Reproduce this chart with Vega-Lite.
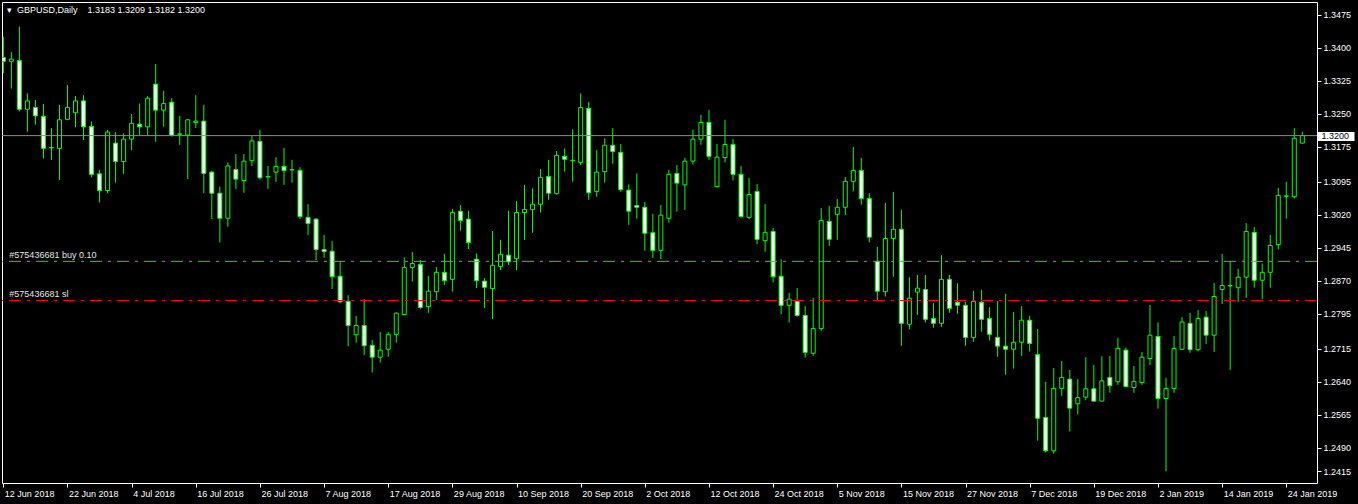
{
  "$schema": "https://vega.github.io/schema/vega-lite/v6.json",
  "width": 1315,
  "height": 481,
  "autosize": {"type": "none"},
  "padding": {"left": 2, "top": 2, "right": 41, "bottom": 21},
  "background": "#000000",
  "config": {
    "view": {"stroke": "#ffffff", "strokeWidth": 1, "fill": "#000000"},
    "font": "Liberation Sans",
    "axis": {
      "domain": false,
      "grid": false,
      "ticks": true,
      "tickColor": "#ffffff",
      "tickSize": 4,
      "tickWidth": 1,
      "labelColor": "#ffffff",
      "labelFont": "Liberation Sans",
      "labelFontSize": 9,
      "labelPadding": 2,
      "labelOverlap": false,
      "labelBound": false,
      "labelFlush": false,
      "title": null
    }
  },
  "title": {
    "text": "▾\u00a0\u00a0GBPUSD,Daily\u00a0\u00a0\u00a0\u00a01.3183 1.3209 1.3182 1.3200",
    "anchor": "start",
    "frame": "group",
    "orient": "top",
    "offset": -13,
    "dx": 5,
    "color": "#ffffff",
    "font": "Liberation Sans",
    "fontSize": 9,
    "fontWeight": "normal"
  },
  "datasets": {
    "candles": [
      {"d":"12 Jun 2018","o":1.3378,"h":1.3425,"l":1.3342,"c":1.3369},
      {"d":"13 Jun 2018","o":1.3369,"h":1.3390,"l":1.3307,"c":1.3374},
      {"d":"14 Jun 2018","o":1.3371,"h":1.3448,"l":1.3255,"c":1.3260},
      {"d":"15 Jun 2018","o":1.3260,"h":1.3296,"l":1.3209,"c":1.3279},
      {"d":"18 Jun 2018","o":1.3264,"h":1.3281,"l":1.3225,"c":1.3245},
      {"d":"19 Jun 2018","o":1.3244,"h":1.3272,"l":1.3148,"c":1.3171},
      {"d":"20 Jun 2018","o":1.3172,"h":1.3217,"l":1.3145,"c":1.3173},
      {"d":"21 Jun 2018","o":1.3171,"h":1.3270,"l":1.3099,"c":1.3236},
      {"d":"22 Jun 2018","o":1.3237,"h":1.3315,"l":1.3235,"c":1.3264},
      {"d":"25 Jun 2018","o":1.3252,"h":1.3290,"l":1.3219,"c":1.3279},
      {"d":"26 Jun 2018","o":1.3279,"h":1.3292,"l":1.3190,"c":1.3220},
      {"d":"27 Jun 2018","o":1.3221,"h":1.3232,"l":1.3105,"c":1.3112},
      {"d":"28 Jun 2018","o":1.3113,"h":1.3122,"l":1.3048,"c":1.3075},
      {"d":"29 Jun 2018","o":1.3075,"h":1.3213,"l":1.3069,"c":1.3208},
      {"d":"2 Jul 2018","o":1.3183,"h":1.3208,"l":1.3093,"c":1.3141},
      {"d":"3 Jul 2018","o":1.3141,"h":1.3205,"l":1.3113,"c":1.3192},
      {"d":"4 Jul 2018","o":1.3192,"h":1.3249,"l":1.3167,"c":1.3228},
      {"d":"5 Jul 2018","o":1.3226,"h":1.3273,"l":1.3201,"c":1.3220},
      {"d":"6 Jul 2018","o":1.3220,"h":1.3290,"l":1.3201,"c":1.3285},
      {"d":"9 Jul 2018","o":1.3317,"h":1.3363,"l":1.3186,"c":1.3258},
      {"d":"10 Jul 2018","o":1.3258,"h":1.3302,"l":1.3220,"c":1.3273},
      {"d":"11 Jul 2018","o":1.3276,"h":1.3285,"l":1.3198,"c":1.3201},
      {"d":"12 Jul 2018","o":1.3203,"h":1.3245,"l":1.3179,"c":1.3204},
      {"d":"13 Jul 2018","o":1.3201,"h":1.3238,"l":1.3101,"c":1.3236},
      {"d":"16 Jul 2018","o":1.3230,"h":1.3292,"l":1.3217,"c":1.3233},
      {"d":"17 Jul 2018","o":1.3233,"h":1.3270,"l":1.3069,"c":1.3114},
      {"d":"18 Jul 2018","o":1.3117,"h":1.3120,"l":1.3010,"c":1.3069},
      {"d":"19 Jul 2018","o":1.3069,"h":1.3084,"l":1.2957,"c":1.3012},
      {"d":"20 Jul 2018","o":1.3012,"h":1.3139,"l":1.2993,"c":1.3131},
      {"d":"23 Jul 2018","o":1.3123,"h":1.3158,"l":1.3079,"c":1.3101},
      {"d":"24 Jul 2018","o":1.3098,"h":1.3158,"l":1.3070,"c":1.3142},
      {"d":"25 Jul 2018","o":1.3143,"h":1.3199,"l":1.3131,"c":1.3188},
      {"d":"26 Jul 2018","o":1.3187,"h":1.3213,"l":1.3100,"c":1.3104},
      {"d":"27 Jul 2018","o":1.3106,"h":1.3131,"l":1.3079,"c":1.3107},
      {"d":"30 Jul 2018","o":1.3117,"h":1.3151,"l":1.3095,"c":1.3130},
      {"d":"31 Jul 2018","o":1.3130,"h":1.3172,"l":1.3088,"c":1.3121},
      {"d":"1 Aug 2018","o":1.3122,"h":1.3145,"l":1.3093,"c":1.3123},
      {"d":"2 Aug 2018","o":1.3121,"h":1.3128,"l":1.3010,"c":1.3016},
      {"d":"3 Aug 2018","o":1.3014,"h":1.3044,"l":1.2974,"c":1.3000},
      {"d":"6 Aug 2018","o":1.3010,"h":1.3012,"l":1.2917,"c":1.2941},
      {"d":"7 Aug 2018","o":1.2941,"h":1.2974,"l":1.2922,"c":1.2936},
      {"d":"8 Aug 2018","o":1.2937,"h":1.2960,"l":1.2851,"c":1.2879},
      {"d":"9 Aug 2018","o":1.2880,"h":1.2914,"l":1.2819,"c":1.2822},
      {"d":"10 Aug 2018","o":1.2823,"h":1.2837,"l":1.2721,"c":1.2768},
      {"d":"13 Aug 2018","o":1.2747,"h":1.2790,"l":1.2729,"c":1.2768},
      {"d":"14 Aug 2018","o":1.2768,"h":1.2828,"l":1.2701,"c":1.2722},
      {"d":"15 Aug 2018","o":1.2723,"h":1.2735,"l":1.2661,"c":1.2696},
      {"d":"16 Aug 2018","o":1.2696,"h":1.2753,"l":1.2684,"c":1.2712},
      {"d":"17 Aug 2018","o":1.2714,"h":1.2753,"l":1.2697,"c":1.2748},
      {"d":"20 Aug 2018","o":1.2748,"h":1.2798,"l":1.2729,"c":1.2796},
      {"d":"21 Aug 2018","o":1.2793,"h":1.2923,"l":1.2792,"c":1.2900},
      {"d":"22 Aug 2018","o":1.2900,"h":1.2935,"l":1.2868,"c":1.2909},
      {"d":"23 Aug 2018","o":1.2907,"h":1.2917,"l":1.2805,"c":1.2809},
      {"d":"24 Aug 2018","o":1.2811,"h":1.2881,"l":1.2797,"c":1.2846},
      {"d":"27 Aug 2018","o":1.2845,"h":1.2901,"l":1.2826,"c":1.2889},
      {"d":"28 Aug 2018","o":1.2889,"h":1.2931,"l":1.2860,"c":1.2870},
      {"d":"29 Aug 2018","o":1.2873,"h":1.3033,"l":1.2845,"c":1.3025},
      {"d":"30 Aug 2018","o":1.3028,"h":1.3042,"l":1.2984,"c":1.3007},
      {"d":"31 Aug 2018","o":1.3010,"h":1.3029,"l":1.2942,"c":1.2957},
      {"d":"3 Sep 2018","o":1.2919,"h":1.2932,"l":1.2853,"c":1.2870},
      {"d":"4 Sep 2018","o":1.2869,"h":1.2876,"l":1.2808,"c":1.2855},
      {"d":"5 Sep 2018","o":1.2852,"h":1.2983,"l":1.2783,"c":1.2905},
      {"d":"6 Sep 2018","o":1.2902,"h":1.2963,"l":1.2894,"c":1.2930},
      {"d":"7 Sep 2018","o":1.2928,"h":1.3029,"l":1.2906,"c":1.2913},
      {"d":"10 Sep 2018","o":1.2920,"h":1.3051,"l":1.2894,"c":1.3025},
      {"d":"11 Sep 2018","o":1.3025,"h":1.3088,"l":1.2963,"c":1.3032},
      {"d":"12 Sep 2018","o":1.3032,"h":1.3080,"l":1.2979,"c":1.3044},
      {"d":"13 Sep 2018","o":1.3044,"h":1.3124,"l":1.3025,"c":1.3105},
      {"d":"14 Sep 2018","o":1.3107,"h":1.3145,"l":1.3054,"c":1.3069},
      {"d":"17 Sep 2018","o":1.3068,"h":1.3165,"l":1.3066,"c":1.3155},
      {"d":"18 Sep 2018","o":1.3153,"h":1.3171,"l":1.3118,"c":1.3146},
      {"d":"19 Sep 2018","o":1.3143,"h":1.3214,"l":1.3095,"c":1.3144},
      {"d":"20 Sep 2018","o":1.3139,"h":1.3296,"l":1.3133,"c":1.3264},
      {"d":"21 Sep 2018","o":1.3262,"h":1.3276,"l":1.3054,"c":1.3070},
      {"d":"24 Sep 2018","o":1.3073,"h":1.3167,"l":1.3061,"c":1.3117},
      {"d":"25 Sep 2018","o":1.3118,"h":1.3194,"l":1.3093,"c":1.3178},
      {"d":"26 Sep 2018","o":1.3178,"h":1.3217,"l":1.3136,"c":1.3164},
      {"d":"27 Sep 2018","o":1.3162,"h":1.3181,"l":1.3072,"c":1.3077},
      {"d":"28 Sep 2018","o":1.3076,"h":1.3089,"l":1.2997,"c":1.3028},
      {"d":"1 Oct 2018","o":1.3041,"h":1.3114,"l":1.3011,"c":1.3037},
      {"d":"2 Oct 2018","o":1.3037,"h":1.3049,"l":1.2938,"c":1.2978},
      {"d":"3 Oct 2018","o":1.2979,"h":1.3022,"l":1.2922,"c":1.2939},
      {"d":"4 Oct 2018","o":1.2939,"h":1.3042,"l":1.2919,"c":1.3019},
      {"d":"5 Oct 2018","o":1.3012,"h":1.3122,"l":1.3002,"c":1.3112},
      {"d":"8 Oct 2018","o":1.3114,"h":1.3133,"l":1.3027,"c":1.3092},
      {"d":"9 Oct 2018","o":1.3088,"h":1.3149,"l":1.3031,"c":1.3142},
      {"d":"10 Oct 2018","o":1.3142,"h":1.3214,"l":1.3134,"c":1.3192},
      {"d":"11 Oct 2018","o":1.3192,"h":1.3247,"l":1.3179,"c":1.3230},
      {"d":"12 Oct 2018","o":1.3230,"h":1.3258,"l":1.3145,"c":1.3153},
      {"d":"15 Oct 2018","o":1.3084,"h":1.3181,"l":1.3082,"c":1.3151},
      {"d":"16 Oct 2018","o":1.3150,"h":1.3236,"l":1.3139,"c":1.3180},
      {"d":"17 Oct 2018","o":1.3180,"h":1.3192,"l":1.3098,"c":1.3112},
      {"d":"18 Oct 2018","o":1.3112,"h":1.3131,"l":1.3013,"c":1.3016},
      {"d":"19 Oct 2018","o":1.3014,"h":1.3104,"l":1.3010,"c":1.3066},
      {"d":"22 Oct 2018","o":1.3073,"h":1.3090,"l":1.2953,"c":1.2964},
      {"d":"23 Oct 2018","o":1.2961,"h":1.3044,"l":1.2936,"c":1.2980},
      {"d":"24 Oct 2018","o":1.2982,"h":1.2990,"l":1.2866,"c":1.2879},
      {"d":"25 Oct 2018","o":1.2880,"h":1.2919,"l":1.2794,"c":1.2814},
      {"d":"26 Oct 2018","o":1.2814,"h":1.2842,"l":1.2775,"c":1.2828},
      {"d":"29 Oct 2018","o":1.2823,"h":1.2853,"l":1.2788,"c":1.2791},
      {"d":"30 Oct 2018","o":1.2791,"h":1.2812,"l":1.2695,"c":1.2707},
      {"d":"31 Oct 2018","o":1.2705,"h":1.2831,"l":1.2699,"c":1.2761},
      {"d":"1 Nov 2018","o":1.2761,"h":1.3035,"l":1.2756,"c":1.3007},
      {"d":"2 Nov 2018","o":1.3005,"h":1.3040,"l":1.2949,"c":1.2964},
      {"d":"5 Nov 2018","o":1.3021,"h":1.3056,"l":1.2963,"c":1.3037},
      {"d":"6 Nov 2018","o":1.3037,"h":1.3106,"l":1.3019,"c":1.3096},
      {"d":"7 Nov 2018","o":1.3096,"h":1.3174,"l":1.3073,"c":1.3121},
      {"d":"8 Nov 2018","o":1.3121,"h":1.3149,"l":1.3043,"c":1.3057},
      {"d":"9 Nov 2018","o":1.3057,"h":1.3069,"l":1.2957,"c":1.2969},
      {"d":"12 Nov 2018","o":1.2914,"h":1.2947,"l":1.2826,"c":1.2846},
      {"d":"13 Nov 2018","o":1.2845,"h":1.3047,"l":1.2834,"c":1.2966},
      {"d":"14 Nov 2018","o":1.2966,"h":1.3072,"l":1.2879,"c":1.2987},
      {"d":"15 Nov 2018","o":1.2987,"h":1.3031,"l":1.2722,"c":1.2773},
      {"d":"16 Nov 2018","o":1.2771,"h":1.2878,"l":1.2759,"c":1.2830},
      {"d":"19 Nov 2018","o":1.2844,"h":1.2883,"l":1.2792,"c":1.2853},
      {"d":"20 Nov 2018","o":1.2850,"h":1.2883,"l":1.2775,"c":1.2782},
      {"d":"21 Nov 2018","o":1.2784,"h":1.2819,"l":1.2763,"c":1.2773},
      {"d":"22 Nov 2018","o":1.2773,"h":1.2928,"l":1.2765,"c":1.2873},
      {"d":"23 Nov 2018","o":1.2873,"h":1.2883,"l":1.2797,"c":1.2807},
      {"d":"26 Nov 2018","o":1.2821,"h":1.2864,"l":1.2795,"c":1.2814},
      {"d":"27 Nov 2018","o":1.2814,"h":1.2822,"l":1.2722,"c":1.2741},
      {"d":"28 Nov 2018","o":1.2741,"h":1.2847,"l":1.2731,"c":1.2823},
      {"d":"29 Nov 2018","o":1.2821,"h":1.2849,"l":1.2754,"c":1.2782},
      {"d":"30 Nov 2018","o":1.2784,"h":1.2810,"l":1.2734,"c":1.2748},
      {"d":"3 Dec 2018","o":1.2741,"h":1.2824,"l":1.2697,"c":1.2721},
      {"d":"4 Dec 2018","o":1.2721,"h":1.2840,"l":1.2656,"c":1.2714},
      {"d":"5 Dec 2018","o":1.2714,"h":1.2799,"l":1.2670,"c":1.2730},
      {"d":"6 Dec 2018","o":1.2730,"h":1.2812,"l":1.2699,"c":1.2780},
      {"d":"7 Dec 2018","o":1.2780,"h":1.2790,"l":1.2709,"c":1.2727},
      {"d":"10 Dec 2018","o":1.2702,"h":1.2760,"l":1.2506,"c":1.2557},
      {"d":"11 Dec 2018","o":1.2559,"h":1.2640,"l":1.2479,"c":1.2483},
      {"d":"12 Dec 2018","o":1.2483,"h":1.2671,"l":1.2476,"c":1.2625},
      {"d":"13 Dec 2018","o":1.2625,"h":1.2687,"l":1.2608,"c":1.2650},
      {"d":"14 Dec 2018","o":1.2646,"h":1.2667,"l":1.2527,"c":1.2580},
      {"d":"17 Dec 2018","o":1.2590,"h":1.2646,"l":1.2566,"c":1.2604},
      {"d":"18 Dec 2018","o":1.2605,"h":1.2696,"l":1.2598,"c":1.2624},
      {"d":"19 Dec 2018","o":1.2624,"h":1.2678,"l":1.2595,"c":1.2596},
      {"d":"20 Dec 2018","o":1.2596,"h":1.2698,"l":1.2596,"c":1.2642},
      {"d":"21 Dec 2018","o":1.2650,"h":1.2699,"l":1.2615,"c":1.2631},
      {"d":"24 Dec 2018","o":1.2640,"h":1.2740,"l":1.2633,"c":1.2716},
      {"d":"26 Dec 2018","o":1.2712,"h":1.2718,"l":1.2629,"c":1.2629},
      {"d":"27 Dec 2018","o":1.2627,"h":1.2676,"l":1.2615,"c":1.2641},
      {"d":"28 Dec 2018","o":1.2638,"h":1.2708,"l":1.2633,"c":1.2696},
      {"d":"31 Dec 2018","o":1.2693,"h":1.2815,"l":1.2678,"c":1.2746},
      {"d":"2 Jan 2019","o":1.2743,"h":1.2775,"l":1.2579,"c":1.2602},
      {"d":"3 Jan 2019","o":1.2602,"h":1.2649,"l":1.2436,"c":1.2625},
      {"d":"4 Jan 2019","o":1.2625,"h":1.2744,"l":1.2615,"c":1.2716},
      {"d":"7 Jan 2019","o":1.2714,"h":1.2787,"l":1.2712,"c":1.2776},
      {"d":"8 Jan 2019","o":1.2773,"h":1.2797,"l":1.2706,"c":1.2713},
      {"d":"9 Jan 2019","o":1.2713,"h":1.2803,"l":1.2709,"c":1.2784},
      {"d":"10 Jan 2019","o":1.2787,"h":1.2801,"l":1.2726,"c":1.2746},
      {"d":"11 Jan 2019","o":1.2746,"h":1.2865,"l":1.2708,"c":1.2834},
      {"d":"14 Jan 2019","o":1.2850,"h":1.2931,"l":1.2817,"c":1.2859},
      {"d":"15 Jan 2019","o":1.2858,"h":1.2914,"l":1.2667,"c":1.2859},
      {"d":"16 Jan 2019","o":1.2854,"h":1.2897,"l":1.2822,"c":1.2878},
      {"d":"17 Jan 2019","o":1.2878,"h":1.3001,"l":1.2831,"c":1.2982},
      {"d":"18 Jan 2019","o":1.2980,"h":1.2992,"l":1.2854,"c":1.2871},
      {"d":"21 Jan 2019","o":1.2871,"h":1.2909,"l":1.2828,"c":1.2889},
      {"d":"22 Jan 2019","o":1.2889,"h":1.2974,"l":1.2854,"c":1.2950},
      {"d":"23 Jan 2019","o":1.2952,"h":1.3081,"l":1.2941,"c":1.3064},
      {"d":"24 Jan 2019","o":1.3062,"h":1.3095,"l":1.3011,"c":1.3063},
      {"d":"25 Jan 2019","o":1.3061,"h":1.3217,"l":1.3057,"c":1.3194},
      {"d":"28 Jan 2019","o":1.3183,"h":1.3209,"l":1.3182,"c":1.3200}
    ],
    "orders": [
      {"label": "#575436681 buy 0.10", "price": 1.2914, "kind": "buy"},
      {"label": "#575436681 sl", "price": 1.2825, "kind": "sl"}
    ],
    "bid": [{"price": 1.32}]
  },
  "resolve": {"axis": {"y": "independent"}},
  "layer": [
    {
      "data": {"name": "candles"},
      "mark": {"type": "rule", "color": "#00ff00", "strokeWidth": 1, "clip": true},
      "encoding": {
        "x": {
          "field": "d",
          "type": "ordinal",
          "sort": null,
          "scale": {"type": "point", "padding": 1.1875, "align": 0.0842},
          "axis": {
            "orient": "bottom",
            "values": ["12 Jun 2018","22 Jun 2018","4 Jul 2018","16 Jul 2018","26 Jul 2018","7 Aug 2018","17 Aug 2018","29 Aug 2018","10 Sep 2018","20 Sep 2018","2 Oct 2018","12 Oct 2018","24 Oct 2018","5 Nov 2018","15 Nov 2018","27 Nov 2018","7 Dec 2018","19 Dec 2018","2 Jan 2019","14 Jan 2019","24 Jan 2019"],
            "labelAlign": "left",
            "labelAngle": 0,
            "labelBaseline": "top",
            "labelOffset": 1
          }
        },
        "y": {
          "field": "l",
          "type": "quantitative",
          "scale": {"domain": [1.24097, 1.3504], "nice": false, "zero": false},
          "axis": {
            "orient": "right",
            "values": [1.3475, 1.34, 1.3325, 1.325, 1.3175, 1.3095, 1.302, 1.2945, 1.287, 1.2795, 1.2715, 1.264, 1.2565, 1.249, 1.2437],
            "labelExpr": "datum.value < 1.245 ? '1.2415' : format(datum.value, '.4f')",
            "labelAlign": "left",
            "labelBaseline": "middle"
          }
        },
        "y2": {"field": "h"}
      }
    },
    {
      "data": {"name": "candles"},
      "mark": {"type": "bar", "size": 4, "stroke": "#00ff00", "strokeWidth": 1, "clip": true},
      "encoding": {
        "x": {"field": "d", "type": "ordinal", "sort": null},
        "y": {"field": "o", "type": "quantitative", "axis": null},
        "y2": {"field": "c"},
        "fill": {"condition": {"test": "datum.o > datum.c", "value": "#ffffff"}, "value": "#000000"}
      }
    },
    {
      "data": {"name": "orders"},
      "mark": {"type": "rule", "strokeWidth": 1, "strokeDash": [12, 6, 3, 6], "clip": true},
      "encoding": {
        "y": {"field": "price", "type": "quantitative", "axis": null},
        "color": {"field": "kind", "type": "nominal", "scale": {"domain": ["buy", "sl"], "range": ["#32cd32", "#ff0000"]}, "legend": null}
      }
    },
    {
      "data": {"name": "orders"},
      "mark": {"type": "text", "align": "left", "baseline": "bottom", "dx": 6, "dy": -1, "color": "#e6e6e6", "font": "Liberation Sans", "fontSize": 9},
      "encoding": {
        "x": {"datum": "12 Jun 2018", "type": "ordinal"},
        "y": {"field": "price", "type": "quantitative", "axis": null},
        "text": {"field": "label"}
      }
    },
    {
      "data": {"name": "bid"},
      "mark": {"type": "rule", "color": "#8c8c8c", "strokeWidth": 1},
      "encoding": {
        "y": {
          "field": "price",
          "type": "quantitative",
          "axis": {
            "orient": "right",
            "values": [1.32],
            "format": ".4f",
            "tickSize": 37,
            "tickWidth": 9,
            "tickColor": "#ffffff",
            "labelColor": "#000000",
            "labelPadding": -33,
            "labelAlign": "left",
            "labelBaseline": "middle"
          }
        }
      }
    }
  ]
}
